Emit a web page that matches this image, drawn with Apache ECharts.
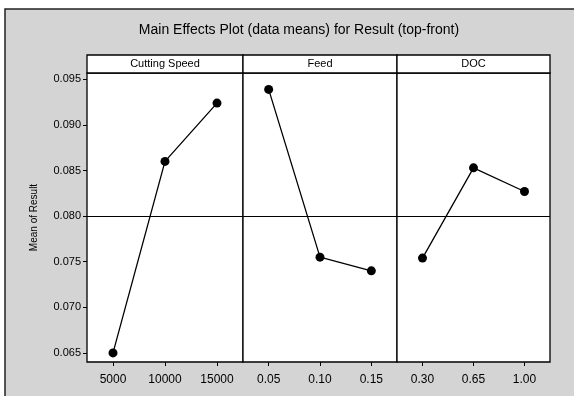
<!DOCTYPE html>
<html>
<head>
<meta charset="utf-8">
<script src="https://cdn.jsdelivr.net/npm/echarts@6/dist/echarts.min.js"></script>
<style>
html,body{margin:0;padding:0;background:#ffffff;}
#c{width:574px;height:396px;}
</style>
</head>
<body>
<div id="c"></div>
<script>
const titleText = 'Main Effects Plot (data means) for Result (top-front)';
const yAxisName = 'Mean of Result';
const factorNames = ['Cutting Speed', 'Feed', 'DOC'];
const speedLevels = ['5000', '10000', '15000'];
const feedLevels = ['0.05', '0.10', '0.15'];
const docLevels = ['0.30', '0.65', '1.00'];
const speedMeans = [0.0650, 0.0860, 0.0924];
const feedMeans = [0.0939, 0.0755, 0.0740];
const docMeans = [0.0754, 0.0853, 0.0827];
const grandMean = 0.0821;
const yTicks = [0.065, 0.070, 0.075, 0.080, 0.085, 0.090, 0.095];

const levels = [speedLevels, feedLevels, docLevels];
const means = [speedMeans, feedMeans, docMeans];

const font = 'Liberation Sans, Arial, sans-serif';
const panelLeft = [87, 243, 397];
const panelWidth = [156, 154, 153];
const plotTop = 73, plotHeight = 289;

const chart = echarts.init(document.getElementById('c'));

const grids = [], xAxes = [], yAxes = [], series = [], graphics = [];

graphics.push({type:'rect', shape:{x:5,y:9,width:600,height:420}, style:{fill:'#d4d4d4', stroke:'#222', lineWidth:1.5}, z:-10});
graphics.push({type:'text', x:299, y:30,
  style:{text:titleText, fill:'#000', font:'14px ' + font, align:'center', verticalAlign:'middle'}});

for (let i = 0; i < 3; i++) {
  grids.push({left: panelLeft[i], top: plotTop, width: panelWidth[i], height: plotHeight,
    show: true, backgroundColor: '#ffffff', borderColor: '#000', borderWidth: 1.3});
  xAxes.push({type:'category', gridIndex:i, data: levels[i], boundaryGap:true,
    axisLine:{show:false},
    axisTick:{show:true, alignWithLabel:true, length:4, lineStyle:{color:'#000'}},
    axisLabel:{color:'#000', fontFamily:font, fontSize:12, margin:12}});
  yAxes.push({type:'value', gridIndex:i, min:0.064, max:0.0957,
    splitLine:{show:false}, axisLine:{show:false},
    axisTick:{show:i===0, length:4, customValues:yTicks, lineStyle:{color:'#000'}},
    axisLabel:{show:i===0, customValues:yTicks, color:'#000', fontFamily:font, fontSize:11, margin:6,
      formatter: v => v.toFixed(3)},
    name: i===0 ? yAxisName : '', nameLocation:'middle', nameGap:48, nameRotate:90,
    nameTextStyle:{color:'#000', fontFamily:font, fontSize:10}});
  series.push({type:'line', xAxisIndex:i, yAxisIndex:i, data: means[i],
    symbol:'circle', symbolSize:9, itemStyle:{color:'#000'}, lineStyle:{color:'#000', width:1.3},
    animation:false,
    markLine:{symbol:['none','none'], silent:true, label:{show:false},
      lineStyle:{color:'#000', width:1, type:'solid'}, data:[{yAxis: grandMean}]}});
  graphics.push({type:'rect', shape:{x:panelLeft[i], y:55, width:panelWidth[i], height:18},
    style:{fill:'#ffffff', stroke:'#000', lineWidth:1.3}});
  graphics.push({type:'text', x: panelLeft[i] + panelWidth[i]/2, y: 64,
    style:{text: factorNames[i], fill:'#000', font:'11px ' + font, align:'center', verticalAlign:'middle'}});
}

chart.setOption({
  animation:false,
  backgroundColor:'#ffffff',
  graphic: graphics,
  grid: grids, xAxis: xAxes, yAxis: yAxes, series: series
});
</script>
</body>
</html>
